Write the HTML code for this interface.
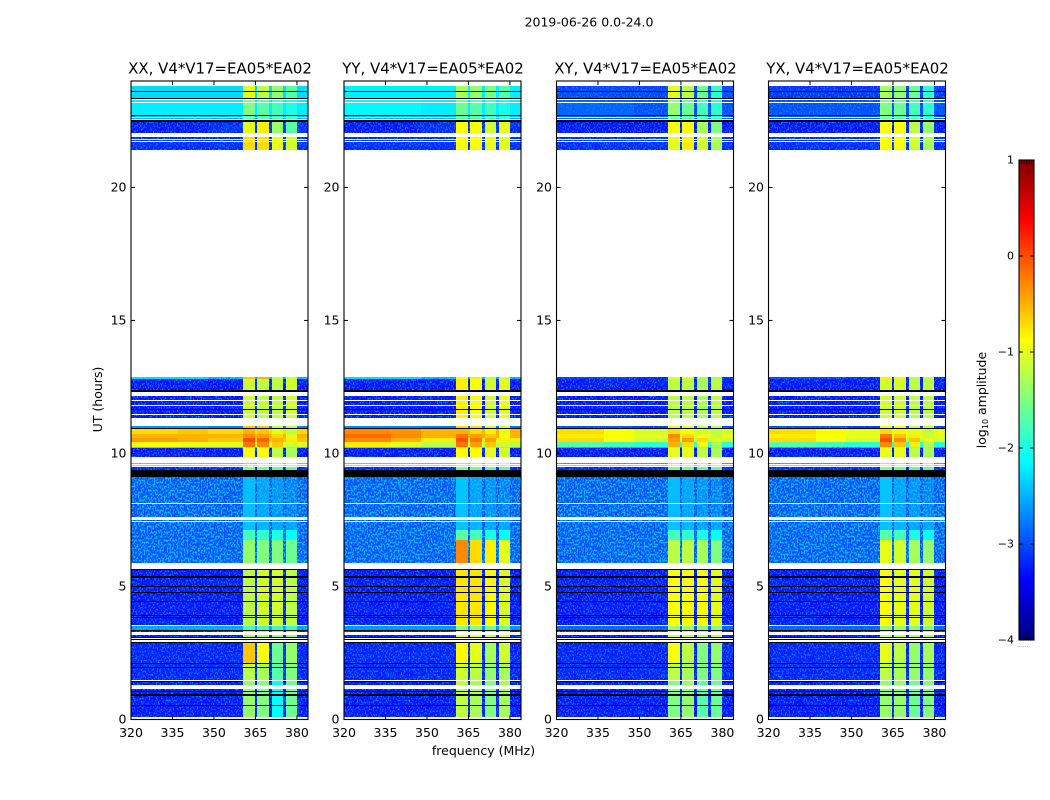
<!DOCTYPE html>
<html>
<head>
<meta charset="utf-8">
<title>2019-06-26 0.0-24.0</title>
<style>
html,body{margin:0;padding:0;background:#fff;width:1050px;height:800px;overflow:hidden}
svg{display:block}
text{font-family:"DejaVu Sans","Liberation Sans",sans-serif;fill:#000}
</style>
</head>
<body>
<svg id="figure" xmlns="http://www.w3.org/2000/svg" width="1050" height="800" viewBox="0 0 1050 800">
  <defs>
    <filter id="speckle" x="0" y="0" width="1" height="1" color-interpolation-filters="sRGB">
      <feTurbulence type="fractalNoise" baseFrequency="0.75 0.55" numOctaves="1" seed="7" result="noise"/>
      <feColorMatrix in="noise" type="matrix" values="0 0 0 0 0.0  0 0 0 0 0.52  0 0 0 0 1  6 0 0 0 -3.0" result="tint"/>
      <feComposite in="tint" in2="SourceAlpha" operator="in" result="clipped"/>
      <feMerge><feMergeNode in="SourceGraphic"/><feMergeNode in="clipped"/></feMerge>
    </filter>
    <filter id="speckle-strong" x="0" y="0" width="1" height="1" color-interpolation-filters="sRGB">
      <feTurbulence type="fractalNoise" baseFrequency="0.7 0.5" numOctaves="1" seed="11" result="noise"/>
      <feColorMatrix in="noise" type="matrix" values="0 0 0 0 0.04  0 0 0 0 0.74  0 0 0 0 1  7 0 0 0 -3.3" result="tint"/>
      <feComposite in="tint" in2="SourceAlpha" operator="in" result="clipped"/>
      <feMerge><feMergeNode in="SourceGraphic"/><feMergeNode in="clipped"/></feMerge>
    </filter>
  </defs>
  <text x="589" y="26.5" font-size="12.5" text-anchor="middle">2019-06-26 0.0-24.0</text>
  <text x="220" y="73.5" font-size="14.95" text-anchor="middle">XX, V4*V17=EA05*EA02</text>
  <text x="433" y="73.5" font-size="14.95" text-anchor="middle">YY, V4*V17=EA05*EA02</text>
  <text x="645.5" y="73.5" font-size="14.95" text-anchor="middle">XY, V4*V17=EA05*EA02</text>
  <text x="857.5" y="73.5" font-size="14.95" text-anchor="middle">YX, V4*V17=EA05*EA02</text>
  <text x="102" y="399.5" font-size="12.5" text-anchor="middle" transform="rotate(-90 102 399.5)">UT (hours)</text>
  <text x="483.5" y="755" font-size="12.5" text-anchor="middle">frequency (MHz)</text>
  <text x="986" y="400" font-size="12.5" text-anchor="middle" transform="rotate(-90 986 400)">log<tspan font-size="8" dy="2">10</tspan><tspan dy="-2"> amplitude</tspan></text>
  <text x="1017" y="647" font-size="6" style="fill:#777">......</text>
  <g id="panels"></g>
  <g id="colorbar"></g>
</svg>
<script>
// Time rows, top to bottom: edges in UT hours, and the level group each interval belongs to.
// Group -1 = no data (white), -2 = flagged (black).
const rowEdgesUT = [23.816,23.628,23.590,23.365,23.308,23.271,23.195,23.158,22.726,22.688,22.650,22.613,22.575,22.538,22.462,22.049,21.898,21.823,21.786,21.748,21.711,21.410,12.876,12.801,12.387,12.312,12.162,12.011,11.974,11.823,11.786,11.654,11.617,11.485,11.447,11.335,11.034,10.940,10.902,10.733,10.583,10.432,10.244,10.207,9.868,9.643,9.605,9.549,9.511,9.492,9.380,9.117,8.139,8.102,7.613,7.500,7.462,7.425,7.124,6.748,5.883,5.658,5.602,5.395,5.320,5.008,4.970,4.786,4.748,4.436,4.398,3.910,3.872,3.835,3.797,3.553,3.515,3.365,3.327,3.289,3.177,3.083,3.045,3.008,2.970,2.914,2.876,2.105,2.068,1.955,1.917,1.485,1.447,1.429,1.278,1.147,1.071,1.034,0.940,0.902,0.545,0.508,0.094];
const rowGroup = [0,-2,0,-2,-1,1,-1,1,-2,2,-1,2,-1,-2,3,-1,4,-1,4,-1,4,-1,5,6,-2,-1,6,-1,6,-1,6,-2,6,-1,6,-1,7,-2,8,9,10,11,12,13,-1,14,-1,15,-1,16,-2,17,-1,17,-1,18,-1,18,19,20,-1,-2,21,-2,21,-2,21,-2,21,-2,21,-2,21,-2,21,-1,22,-2,23,-1,23,-2,-1,-2,-1,-2,24,-2,25,-2,25,-1,-2,26,-1,26,-2,26,-2,26,-2,26];

// log10 amplitude per group: [low-left, low-right, subband1, subband2, subband3, subband4]
const levelsXX = [
 [-2.3,-2.3,-1.0,-1.2,-1.4,-1.7],[-2.2,-2.2,-1.5,-1.7,-1.8,-2.0],[-2.4,-2.4,-1.7,-1.7,-1.8,-1.9],
 [-3.3,-3.2,-1.0,-0.8,-1.4,-1.7],[-3.2,-3.2,-0.7,-0.7,-1.0,-1.1],[-2.3,-2.4,-0.6,-0.5,-1.2,-1.1],
 [-3.3,-3.3,-1.1,-1.2,-1.2,-1.1],[-2.6,-2.7,-0.6,-0.6,-1.2,-1.2],
 [-0.7,-0.7,-0.5,-0.6,-1.0,-1.2],[-0.5,-0.5,-0.3,-0.4,-0.7,-1.0],[-0.4,-0.6,0.0,-0.1,-0.5,-0.8],[-0.9,-1.0,-0.2,-0.3,-0.6,-1.1],
 [-2.2,-2.2,-1.0,-1.0,-1.4,-1.5],[-3.3,-3.3,-0.9,-0.9,-1.2,-1.3],[-2.2,-2.2,-0.6,-0.8,-0.8,-0.9],[-1.6,-1.6,-0.8,-0.9,-1.0,-1.1],[-3.2,-3.2,-1.5,-1.6,-1.7,-1.7],
 [-3.0,-3.0,-2.45,-2.6,-2.7,-2.8],[-3.0,-3.0,-2.4,-2.5,-2.6,-2.6],[-3.0,-3.0,-1.8,-1.9,-2.0,-2.1],[-3.0,-3.0,-1.4,-1.5,-1.5,-1.6],
 [-3.3,-3.3,-1.2,-1.1,-1.1,-1.2],[-2.5,-2.5,-1.8,-1.8,-1.9,-1.9],[-3.3,-3.3,-1.3,-1.3,-1.4,-1.4],
 [-3.25,-3.25,-0.6,-0.9,-1.6,-1.4],[-3.25,-3.25,-1.2,-1.3,-1.7,-1.5],[-3.3,-3.3,-1.4,-1.5,-2.1,-1.6]
];
const levelsYY = [
 [-2.2,-2.2,-1.3,-1.4,-1.5,-1.7],[-2.15,-2.2,-1.6,-1.7,-1.8,-2.0],[-2.4,-2.4,-1.7,-1.7,-1.8,-1.9],
 [-3.3,-3.2,-0.9,-0.9,-1.1,-1.0],[-3.2,-3.2,-0.9,-0.9,-1.0,-1.0],[-2.3,-2.4,-0.9,-0.8,-1.2,-1.1],
 [-3.3,-3.3,-0.8,-0.9,-1.1,-1.0],[-2.7,-2.8,-0.7,-0.7,-1.1,-1.1],
 [-0.3,-0.5,-0.5,-0.7,-0.8,-1.0],[-0.15,-0.5,-0.2,-0.4,-0.6,-0.9],[-0.3,-0.8,0.0,-0.2,-0.4,-0.8],[-0.8,-1.2,-0.2,-0.4,-0.6,-1.1],
 [-2.2,-2.2,-1.0,-1.0,-1.4,-1.5],[-3.3,-3.3,-0.9,-0.9,-1.0,-1.1],[-2.2,-2.2,-0.7,-0.8,-0.8,-0.9],[-1.6,-1.6,-0.8,-0.9,-1.0,-1.1],[-3.2,-3.2,-1.5,-1.6,-1.7,-1.7],
 [-3.0,-3.0,-2.4,-2.6,-2.7,-2.8],[-3.0,-3.0,-2.4,-2.5,-2.6,-2.6],[-3.0,-3.0,-1.7,-1.8,-2.0,-2.1],[-3.0,-3.0,-0.3,-0.7,-0.8,-1.0],
 [-3.3,-3.3,-0.75,-0.75,-0.85,-1.05],[-2.6,-2.6,-1.5,-1.5,-1.6,-1.6],[-3.3,-3.3,-0.9,-0.9,-1.1,-1.0],
 [-3.25,-3.25,-0.85,-1.0,-1.3,-1.1],[-3.25,-3.25,-1.1,-1.2,-1.4,-1.3],[-3.3,-3.3,-1.2,-1.3,-1.5,-1.3]
];
const levelsXY = [
 [-3.05,-3.05,-1.0,-1.2,-1.6,-1.9],[-2.9,-3.0,-1.4,-1.6,-1.8,-1.9],[-3.0,-3.0,-1.6,-1.7,-1.8,-1.9],
 [-3.3,-3.3,-0.9,-0.9,-1.3,-1.5],[-3.2,-3.2,-1.0,-0.8,-1.1,-1.3],[-3.1,-3.2,-1.0,-1.0,-1.3,-1.3],
 [-3.3,-3.3,-1.2,-1.2,-1.3,-1.2],[-3.0,-3.1,-1.0,-1.0,-1.2,-1.2],
 [-0.7,-1.1,-0.7,-0.9,-1.1,-1.2],[-0.8,-1.0,-0.3,-0.7,-0.9,-1.2],[-0.7,-1.1,-0.4,-0.4,-0.7,-1.0],[-1.7,-1.9,-0.5,-0.7,-0.9,-1.3],
 [-2.4,-2.4,-1.0,-1.0,-1.4,-1.5],[-3.3,-3.3,-1.0,-1.0,-1.2,-1.3],[-2.4,-2.4,-0.7,-0.8,-0.8,-0.9],[-1.8,-1.8,-0.9,-0.9,-1.0,-1.1],[-3.2,-3.2,-1.5,-1.6,-1.7,-1.7],
 [-3.0,-3.0,-2.45,-2.6,-2.7,-2.8],[-3.0,-3.0,-2.4,-2.5,-2.6,-2.6],[-3.0,-3.0,-1.8,-1.9,-2.0,-2.1],[-3.0,-3.0,-1.2,-1.2,-1.3,-1.5],
 [-3.3,-3.3,-0.9,-0.9,-0.9,-1.0],[-2.9,-2.9,-1.4,-1.4,-1.5,-1.5],[-3.3,-3.3,-1.0,-1.1,-1.2,-1.1],
 [-3.25,-3.25,-0.9,-1.2,-1.5,-1.4],[-3.25,-3.25,-1.2,-1.3,-1.5,-1.5],[-3.3,-3.3,-1.5,-1.4,-1.7,-1.6]
];
const levelsYX = [
 [-3.15,-3.15,-1.3,-1.4,-1.6,-1.9],[-3.0,-3.0,-1.5,-1.6,-1.8,-1.9],[-3.0,-3.0,-1.6,-1.7,-1.8,-1.9],
 [-3.3,-3.3,-0.9,-0.9,-1.2,-1.4],[-3.2,-3.2,-0.9,-0.9,-1.1,-1.3],[-3.1,-3.2,-0.8,-0.8,-1.2,-1.2],
 [-3.3,-3.3,-1.1,-1.1,-1.2,-1.2],[-3.0,-3.1,-0.9,-0.9,-1.1,-1.2],
 [-0.7,-1.0,-0.7,-0.8,-1.0,-1.2],[-0.8,-1.0,-0.2,-0.6,-0.8,-1.1],[-0.7,-1.1,0.0,-0.3,-0.6,-1.0],[-1.7,-1.9,-0.3,-0.6,-0.8,-1.2],
 [-2.4,-2.4,-1.0,-1.0,-1.4,-1.5],[-3.3,-3.3,-1.0,-1.0,-1.2,-1.3],[-2.4,-2.4,-0.7,-0.7,-0.7,-0.8],[-1.8,-1.8,-0.9,-0.9,-1.0,-1.1],[-3.2,-3.2,-1.5,-1.6,-1.7,-1.7],
 [-3.0,-3.0,-2.4,-2.6,-2.7,-2.8],[-3.0,-3.0,-2.4,-2.5,-2.6,-2.6],[-3.0,-3.0,-1.7,-1.8,-2.0,-2.1],[-3.0,-3.0,-1.0,-1.1,-1.3,-1.4],
 [-3.3,-3.3,-0.9,-1.0,-1.0,-1.1],[-2.9,-2.9,-1.4,-1.4,-1.5,-1.5],[-3.3,-3.3,-1.1,-1.1,-1.2,-1.2],
 [-3.25,-3.25,-1.0,-1.2,-1.4,-1.3],[-3.25,-3.25,-1.2,-1.3,-1.4,-1.4],[-3.3,-3.3,-1.4,-1.4,-1.6,-1.5]
];

// Mid-band low-frequency level for the four hot rows (groups 8 to 11), per panel.
const hotMidXX = [-0.6,-0.5,-0.5,-0.95];
const hotMidYY = [-0.35,-0.3,-0.5,-1.0];
const hotMidXY = [-0.9,-0.9,-0.9,-1.8];
const hotMidYX = [-0.85,-0.9,-0.9,-1.8];

// Frequency columns (MHz) and which level each column reads ('mid' uses the hot-row value when present).
const freqEdges = [320,337,348,360.4,364.8,365.5,369.8,370.9,374.9,376,380,384];
const columnLevel = [0,'mid',1,2,1,3,1,4,1,5,1];

const xTicks = [320,335,350,365,380];
const yTicks = [0,5,10,15,20];
const cbTicks = [1,0,-1,-2,-3,-4];
const cbTickLabels = ['1','0','\u22121','\u22122','\u22123','\u22124'];

const panelLefts = [131,344,556.5,768.5];
const panelNames = ['xx','yy','xy','yx'];
const panelLevels = [levelsXX,levelsYY,levelsXY,levelsYX];
const panelHotMid = [hotMidXX,hotMidYY,hotMidXY,hotMidYX];
const PANEL_W = 177, PANEL_TOP = 81, PANEL_BOTTOM = 719.5;
const NS = 'http://www.w3.org/2000/svg';

function yUT(u){ return PANEL_BOTTOM - u * (PANEL_BOTTOM - PANEL_TOP) / 24; }
function xFreq(left, f){ return left + (f - 320) * PANEL_W / 64; }
function jet(v){
  const t = Math.max(0, Math.min(1, (v + 4) / 5));
  const c = function(k){ return Math.round(255 * Math.max(0, Math.min(1, 1.5 - Math.abs(4 * t - k)))); };
  return 'rgb(' + c(3) + ',' + c(2) + ',' + c(1) + ')';
}
function make(tag, parent){
  const el = document.createElementNS(NS, tag);
  parent.appendChild(el);
  return el;
}
function line(parent, x1, y1, x2, y2){
  const l = make('line', parent);
  l.setAttribute('x1', x1); l.setAttribute('y1', y1);
  l.setAttribute('x2', x2); l.setAttribute('y2', y2);
  l.setAttribute('stroke', '#000');
  l.setAttribute('stroke-width', 1);
  return l;
}

const panelsRoot = document.getElementById('panels');
panelLefts.forEach(function(left, p){
  const levels = panelLevels[p];
  const hotMid = panelHotMid[p];
  const g = make('g', panelsRoot);
  
  

  const heat = make('g', g);
  
  
  heat.setAttribute('shape-rendering', 'crispEdges');
  const noisy = make('g', heat);
  
  
  noisy.setAttribute('filter', 'url(#speckle)');
  const noisyStrong = make('g', heat);
  
  
  noisyStrong.setAttribute('filter', 'url(#speckle-strong)');
  const plain = make('g', heat);
  
  

  rowGroup.forEach(function(group, r){
    if (group === -1) return;
    const y0 = Math.round(yUT(rowEdgesUT[r]));
    const y1 = Math.max(y0 + 1, Math.round(yUT(rowEdgesUT[r + 1])));
    columnLevel.forEach(function(levelIndex, c){
      const x0 = Math.round(xFreq(left, freqEdges[c]));
      const x1 = Math.round(xFreq(left, freqEdges[c + 1]));
      let value = null;
      if (group !== -2) {
        if (levelIndex === 'mid') {
          value = (group >= 8 && group <= 11) ? hotMid[group - 8] : levels[group][0];
        } else {
          value = levels[group][levelIndex];
        }
      }
      const isNoisy = value !== null && value < -2.35;
      const isStrong = isNoisy && group >= 17 && group <= 20;
      const cell = make('rect', isStrong ? noisyStrong : (isNoisy ? noisy : plain));
      cell.setAttribute('x', x0);
      cell.setAttribute('y', y0);
      cell.setAttribute('width', x1 - x0);
      cell.setAttribute('height', y1 - y0);
      cell.setAttribute('fill', value === null ? '#000' : jet(value));
      
      
    });
  });

  const frame = make('rect', g);
  frame.setAttribute('x', left);
  frame.setAttribute('y', PANEL_TOP);
  frame.setAttribute('width', PANEL_W);
  frame.setAttribute('height', PANEL_BOTTOM - PANEL_TOP);
  frame.setAttribute('fill', 'none');
  frame.setAttribute('stroke', '#000');
  frame.setAttribute('stroke-width', 1.1);
  
  

  xTicks.forEach(function(f, i){
    const x = xFreq(left, f);
    const bottomTick = line(g, x, PANEL_BOTTOM, x, PANEL_BOTTOM - 4);
    
    
    const topTick = line(g, x, PANEL_TOP, x, PANEL_TOP + 4);
    
    
    const label = make('text', g);
    label.setAttribute('x', x);
    label.setAttribute('y', 737);
    label.setAttribute('font-size', 12.5);
    label.setAttribute('text-anchor', 'middle');
    
    
    label.textContent = String(xTicks[i]);
  });
  yTicks.forEach(function(u, i){
    const y = yUT(u);
    const leftTick = line(g, left, y, left + 4, y);
    
    
    const rightTick = line(g, left + PANEL_W, y, left + PANEL_W - 4, y);
    
    
    const label = make('text', g);
    label.setAttribute('x', left - 4.5);
    label.setAttribute('y', y + 4);
    label.setAttribute('font-size', 12.5);
    label.setAttribute('text-anchor', 'end');
    
    
    label.textContent = String(yTicks[i]);
  });
});

// Colorbar
const cbRoot = document.getElementById('colorbar');
const CB_LEFT = 1019, CB_W = 15, CB_TOP = 160, CB_BOTTOM = 640;
function yLevel(v){ return CB_BOTTOM - (v + 4) * (CB_BOTTOM - CB_TOP) / 5; }
const ramp = make('g', cbRoot);


ramp.setAttribute('shape-rendering', 'crispEdges');
for (let py = CB_TOP; py < CB_BOTTOM; py++) {
  const seg = make('rect', ramp);
  seg.setAttribute('x', CB_LEFT);
  seg.setAttribute('y', py);
  seg.setAttribute('width', CB_W);
  seg.setAttribute('height', 1);
  seg.setAttribute('fill', jet(1 - (py + 0.5 - CB_TOP) * 5 / (CB_BOTTOM - CB_TOP)));
  
  
}
const cbFrame = make('rect', cbRoot);
cbFrame.setAttribute('x', CB_LEFT);
cbFrame.setAttribute('y', CB_TOP);
cbFrame.setAttribute('width', CB_W);
cbFrame.setAttribute('height', CB_BOTTOM - CB_TOP);
cbFrame.setAttribute('fill', 'none');
cbFrame.setAttribute('stroke', '#000');
cbFrame.setAttribute('stroke-width', 1.1);


for (let k = 1; k <= 5; k++) {
  const x = CB_LEFT + k * 2.5;
  const topMark = line(cbRoot, x, CB_TOP, x, CB_TOP + 4);
  topMark.setAttribute('stroke-width', 0.6);
  
  
  const bottomMark = line(cbRoot, x, CB_BOTTOM, x, CB_BOTTOM - 4);
  bottomMark.setAttribute('stroke-width', 0.6);
  
  
}
cbTicks.forEach(function(v, i){
  const y = yLevel(v);
  const t1 = line(cbRoot, CB_LEFT, y, CB_LEFT + 4, y);
  
  
  const t2 = line(cbRoot, CB_LEFT + CB_W, y, CB_LEFT + CB_W - 4, y);
  
  
  const label = make('text', cbRoot);
  label.setAttribute('x', CB_LEFT - 5);
  label.setAttribute('y', y + 3.5);
  label.setAttribute('font-size', 11);
  label.setAttribute('text-anchor', 'end');
  
  
  label.textContent = cbTickLabels[i];
});
</script>
</body>
</html>
